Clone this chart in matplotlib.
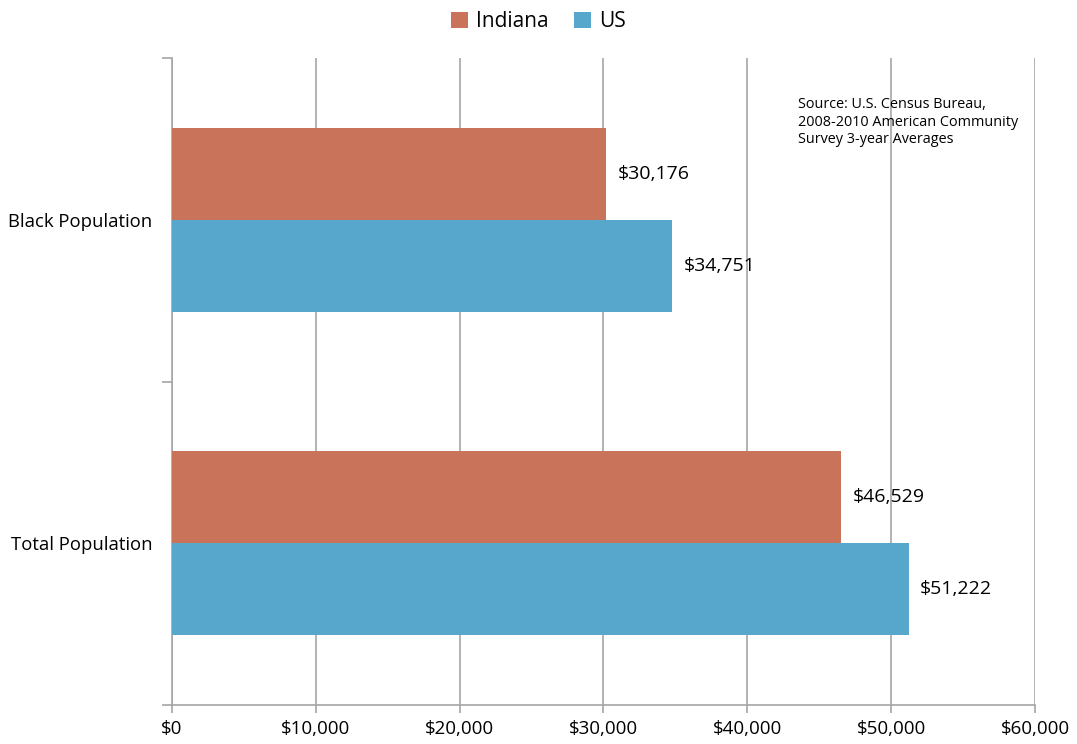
import matplotlib.pyplot as plt
import numpy as np

plt.rcParams['font.family'] = ['Open Sans', 'DejaVu Sans']

categories = ['Total Population', 'Black Population']
indiana = [46529, 30176]
us = [51222, 34751]
series_names = ['Indiana', 'US']
colors = ['#C8735A', '#57A6CC']
xticks = [0, 10000, 20000, 30000, 40000, 50000, 60000]

fig = plt.figure(figsize=(10.77, 7.44), dpi=100)
ax = fig.add_axes([0.1597, 0.0524, 0.8013, 0.8696])

y = np.arange(len(categories))
h = 0.285
b1 = ax.barh(y + h / 2, indiana, height=h, color=colors[0], label=series_names[0], zorder=3)
b2 = ax.barh(y - h / 2, us, height=h, color=colors[1], label=series_names[1], zorder=3)

for bars, vals in [(b1, indiana), (b2, us)]:
    for bar, v in zip(bars, vals):
        ax.text(v + 800, bar.get_y() + bar.get_height() / 2, '${:,}'.format(v),
                va='center', ha='left', fontsize=14)

ax.set_xlim(0, 60000)
ax.set_ylim(-0.5, 1.5)
ax.set_xticks(xticks)
ax.set_xticklabels(['${:,}'.format(t) for t in xticks], fontsize=13.5)
ax.xaxis.grid(True, color='#A6A6A6', linewidth=1.2, zorder=0)

# category labels centered, ticks at boundaries
ax.set_yticks([-0.5, 0.5, 1.5])
ax.set_yticklabels([])
ax.set_yticks(y, minor=True)
ax.set_yticklabels(categories, minor=True, fontsize=13.3)
ax.tick_params(axis='y', which='minor', length=0, pad=14)
ax.tick_params(axis='y', which='major', length=7, color='#A6A6A6', width=1.2)
ax.tick_params(axis='x', length=6, color='#A6A6A6', width=1.2, pad=5)

for s in ['top', 'right']:
    ax.spines[s].set_visible(False)
for s in ['left', 'bottom']:
    ax.spines[s].set_color('#A6A6A6')
    ax.spines[s].set_linewidth(1.2)

ax.text(0.725, 0.94, 'Source: U.S. Census Bureau,\n2008-2010 American Community\nSurvey 3-year Averages',
        transform=ax.transAxes, fontsize=10.4, va='top', ha='left', linespacing=1.25)

fig.legend(handles=[b1, b2], loc='upper center', bbox_to_anchor=(0.5, 1.01), ncol=2,
           frameon=False, fontsize=15, handlelength=0.8, handleheight=0.8,
           handletextpad=0.4, columnspacing=1.2)

fig.savefig('out.png', dpi=100)
